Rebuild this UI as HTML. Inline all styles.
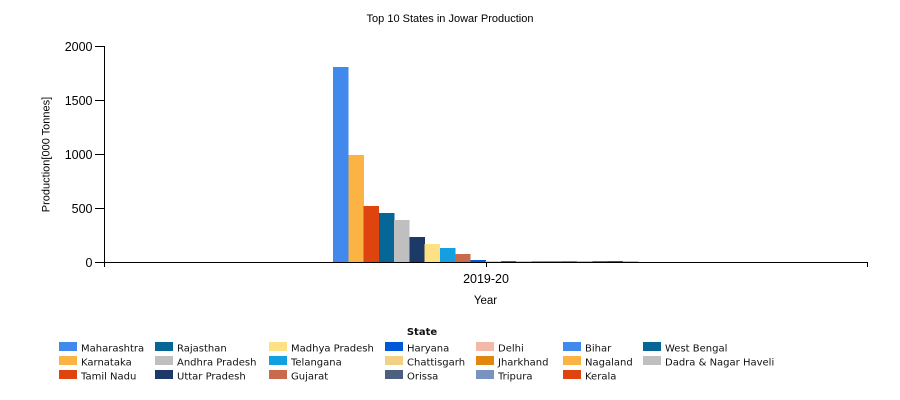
<!DOCTYPE html>
<html>
<head>
<meta charset="utf-8">
<style>
  html, body { margin: 0; padding: 0; background: #ffffff; }
  svg { display: block; }
  .ax { font-family: "Liberation Sans", Arial, sans-serif; fill: #000; }
  .lg { font-family: "DejaVu Sans", Verdana, sans-serif; font-size: 10px; fill: #111; }
</style>
</head>
<body>
<svg width="900" height="400" viewBox="0 0 900 400" xmlns="http://www.w3.org/2000/svg">
  <rect x="0" y="0" width="900" height="400" fill="#ffffff"/>
  <!-- Title -->
  <text class="ax" x="450" y="22" font-size="11" text-anchor="middle">Top 10 States in Jowar Production</text>

  <!-- Bars (baseline y=262, scale 0.108 px/unit) -->
  <g shape-rendering="crispEdges">
    <rect x="333" y="67" width="15.5" height="195" fill="#4289ED"/>
    <rect x="348.25" y="155" width="15.5" height="107" fill="#FBB443"/>
    <rect x="363.5" y="206" width="15.5" height="56" fill="#E0440E"/>
    <rect x="378.75" y="213" width="15.5" height="49" fill="#066695"/>
    <rect x="394" y="220" width="15.5" height="42" fill="#BFBFBF"/>
    <rect x="409.25" y="237" width="15.5" height="25" fill="#1C3967"/>
    <rect x="424.5" y="244" width="15.5" height="18" fill="#FEE185"/>
    <rect x="439.75" y="248" width="15.5" height="14" fill="#139FE0"/>
    <rect x="455" y="254" width="15.5" height="8" fill="#C86A4B"/>
    <rect x="470.25" y="260" width="15.5" height="2" fill="#0057D8"/>
    <rect x="485.5" y="261" width="15.5" height="1" fill="#F2D086"/>
    <rect x="500.75" y="261" width="15.5" height="1" fill="#4C5F7E"/>
    <rect x="516" y="261" width="15.5" height="1" fill="#F2B8A8"/>
    <rect x="531.25" y="261" width="15.5" height="1" fill="#E0870F"/>
    <rect x="546.5" y="261" width="15.5" height="1" fill="#7893C0"/>
    <rect x="561.75" y="261" width="15.5" height="1" fill="#4289ED"/>
    <rect x="577" y="261" width="15.5" height="1" fill="#FBB443"/>
    <rect x="592.25" y="261" width="15.5" height="1" fill="#E0440E"/>
    <rect x="607.5" y="261" width="15.5" height="1" fill="#066695"/>
    <rect x="622.75" y="261" width="15.5" height="1" fill="#BFBFBF"/>
  </g>

  <!-- Axes -->
  <g stroke="#000" stroke-width="1" shape-rendering="crispEdges" fill="none">
    <line x1="104.5" y1="46" x2="104.5" y2="267"/>
    <line x1="104" y1="262.5" x2="868" y2="262.5"/>
    <line x1="867.5" y1="262" x2="867.5" y2="267"/>
    <line x1="486.5" y1="262" x2="486.5" y2="267"/>
    <line x1="95" y1="46.5" x2="105" y2="46.5"/>
    <line x1="95" y1="100.5" x2="105" y2="100.5"/>
    <line x1="95" y1="154.5" x2="105" y2="154.5"/>
    <line x1="95" y1="208.5" x2="105" y2="208.5"/>
    <line x1="95" y1="262.5" x2="105" y2="262.5"/>
  </g>

  <!-- Y tick labels -->
  <g class="ax" font-size="12.5" text-anchor="end">
    <text x="92.5" y="51">2000</text>
    <text x="92.5" y="105">1500</text>
    <text x="92.5" y="159">1000</text>
    <text x="92.5" y="213">500</text>
    <text x="92.5" y="267">0</text>
  </g>

  <!-- Y axis title -->
  <text class="ax" font-size="11" text-anchor="middle" transform="translate(49.5,154.5) rotate(-90)">Production[000 Tonnes]</text>

  <!-- X tick label & title -->
  <text class="ax" x="486" y="283" font-size="12.5" text-anchor="middle">2019-20</text>
  <text class="ax" x="485.5" y="304" font-size="11.5" text-anchor="middle">Year</text>

  <!-- Legend -->
  <text class="lg" x="422" y="335" font-weight="bold" text-anchor="middle">State</text>
  <g shape-rendering="crispEdges">
    <rect x="59" y="342" width="18" height="9" fill="#4289ED"/>
    <rect x="59" y="356" width="18" height="9" fill="#FBB443"/>
    <rect x="59" y="370" width="18" height="9" fill="#E0440E"/>

    <rect x="155" y="342" width="18" height="9" fill="#066695"/>
    <rect x="155" y="356" width="18" height="9" fill="#BFBFBF"/>
    <rect x="155" y="370" width="18" height="9" fill="#1C3967"/>

    <rect x="269" y="342" width="18" height="9" fill="#FEE185"/>
    <rect x="269" y="356" width="18" height="9" fill="#139FE0"/>
    <rect x="269" y="370" width="18" height="9" fill="#C86A4B"/>

    <rect x="385" y="342" width="18" height="9" fill="#0057D8"/>
    <rect x="385" y="356" width="18" height="9" fill="#F2D086"/>
    <rect x="385" y="370" width="18" height="9" fill="#4C5F7E"/>

    <rect x="476" y="342" width="18" height="9" fill="#F2B8A8"/>
    <rect x="476" y="356" width="18" height="9" fill="#E0870F"/>
    <rect x="476" y="370" width="18" height="9" fill="#7893C0"/>

    <rect x="563" y="342" width="18" height="9" fill="#4289ED"/>
    <rect x="563" y="356" width="18" height="9" fill="#FBB443"/>
    <rect x="563" y="370" width="18" height="9" fill="#E0440E"/>

    <rect x="643" y="342" width="18" height="9" fill="#066695"/>
    <rect x="643" y="356" width="18" height="9" fill="#BFBFBF"/>
  </g>
  <g class="lg">
    <text x="81" y="351.5">Maharashtra</text>
    <text x="81" y="365.5">Karnataka</text>
    <text x="81" y="379.5">Tamil Nadu</text>

    <text x="177" y="351.5">Rajasthan</text>
    <text x="177" y="365.5">Andhra Pradesh</text>
    <text x="177" y="379.5">Uttar Pradesh</text>

    <text x="291" y="351.5">Madhya Pradesh</text>
    <text x="291" y="365.5">Telangana</text>
    <text x="291" y="379.5">Gujarat</text>

    <text x="407" y="351.5">Haryana</text>
    <text x="407" y="365.5">Chattisgarh</text>
    <text x="407" y="379.5">Orissa</text>

    <text x="498" y="351.5">Delhi</text>
    <text x="498" y="365.5">Jharkhand</text>
    <text x="498" y="379.5">Tripura</text>

    <text x="585" y="351.5">Bihar</text>
    <text x="585" y="365.5">Nagaland</text>
    <text x="585" y="379.5">Kerala</text>

    <text x="665" y="351.5">West Bengal</text>
    <text x="665" y="365.5">Dadra &amp; Nagar Haveli</text>
  </g>
</svg>
</body>
</html>
